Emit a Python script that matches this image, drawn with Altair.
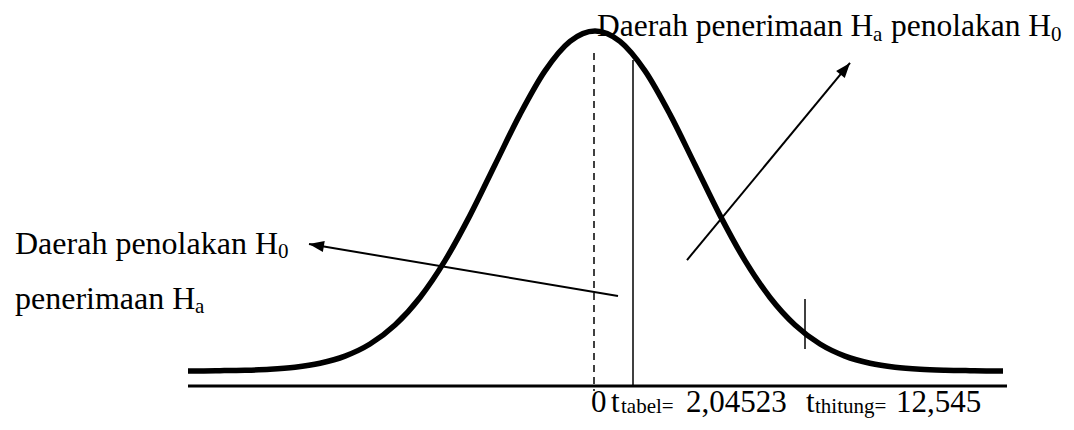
import altair as alt
import pandas as pd

# ---- curve (standard units z, density) ----
curve_z = [-4.07, -4.0, -3.75, -3.5, -3.25, -3.0, -2.75, -2.5, -2.25, -2.0, -1.75, -1.5,
           -1.25, -1.0, -0.75, -0.5, -0.25, 0.0, 0.25, 0.5, 0.75, 1.0, 1.25, 1.5, 1.75,
           2.0, 2.25, 2.5, 2.75, 3.0, 3.25, 3.5, 3.75, 4.0, 4.08]
curve_d = [0.0001, 0.0001, 0.0004, 0.0009, 0.0020, 0.0044, 0.0091, 0.0175, 0.0317, 0.0540,
           0.0863, 0.1295, 0.1826, 0.2420, 0.3011, 0.3521, 0.3867, 0.3989, 0.3867, 0.3521,
           0.3011, 0.2420, 0.1826, 0.1295, 0.0863, 0.0540, 0.0317, 0.0175, 0.0091, 0.0044,
           0.0020, 0.0009, 0.0004, 0.0001, 0.0001]

# ---- straight lines: baseline, mean (dashed), t-table, t-hitung tick ----
line_names = ["baseline", "mean", "ttabel", "thitung"]
line_x1 = [-4.07, -0.01, 0.38, 2.10]
line_x2 = [4.12, -0.01, 0.38, 2.10]
line_y1 = [-0.0176, 0.3731, 0.3649, 0.0845]
line_y2 = [-0.0176, -0.0235, -0.0176, 0.0258]

# ---- arrows (start -> tip) ----
arrow_x1 = [0.92, 0.23]
arrow_y1 = [0.1302, 0.0880]
arrow_x2 = [2.55, -2.86]
arrow_y2 = [0.3614, 0.1490]
arrow_angle = [39.6, 279.6]

# ---- text pieces ----
text_str = ["Daerah penerimaan H", "a", "penolakan H", "0",
            "Daerah penolakan H", "0",
            "penerimaan H", "a",
            "0", "t", "tabel=", "2,04523", "t", "thitung=", "12,545"]
text_x = [0.02, 2.78, 2.96, 4.56,
          -5.80, -3.17,
          -5.80, -4.00,
          -0.04, 0.16, 0.26, 0.91, 2.11, 2.20, 3.01]
text_y = [0.3931, 0.3872, 0.3931, 0.3872,
          0.1373, 0.1326,
          0.0727, 0.0681,
          -0.0481, -0.0481, -0.0493, -0.0481, -0.0481, -0.0493, -0.0481]
text_size = [31.5, 21, 31.5, 21,
             32, 21,
             32, 21,
             31, 31, 21, 31, 31, 21, 31]

curve = pd.DataFrame({"z": curve_z, "d": curve_d})
lines = pd.DataFrame({"name": line_names, "x1": line_x1, "x2": line_x2, "y1": line_y1, "y2": line_y2})
arrows = pd.DataFrame({"x1": arrow_x1, "y1": arrow_y1, "x2": arrow_x2, "y2": arrow_y2, "ang": arrow_angle})
texts = pd.DataFrame({"t": text_str, "x": text_x, "y": text_y, "fs": text_size})

xs = alt.Scale(domain=[-5.87, 4.71], nice=False, zero=False)
ys = alt.Scale(domain=[-0.05515, 0.42591], nice=False, zero=False)

curve_layer = alt.Chart(curve).mark_line(color="black", strokeWidth=5.5, interpolate="monotone").encode(
    x=alt.X("z:Q", scale=xs, axis=None),
    y=alt.Y("d:Q", scale=ys, axis=None),
)

def rule_layer(names, **style):
    return alt.Chart(lines[lines["name"].isin(names)]).mark_rule(color="black", **style).encode(
        x=alt.X("x1:Q", scale=xs, axis=None), x2="x2:Q",
        y=alt.Y("y1:Q", scale=ys, axis=None), y2="y2:Q",
    )

base_layer = rule_layer(["baseline"], strokeWidth=3)
mean_layer = rule_layer(["mean"], strokeWidth=1.5, strokeDash=[7, 5])
solid_layer = rule_layer(["ttabel", "thitung"], strokeWidth=1.5)

arrow_lines = alt.Chart(arrows).mark_rule(color="black", strokeWidth=2).encode(
    x=alt.X("x1:Q", scale=xs, axis=None), x2="x2:Q",
    y=alt.Y("y1:Q", scale=ys, axis=None), y2="y2:Q",
)
arrow_heads = alt.Chart(arrows).mark_point(
    shape="M0,0L0.75,2L-0.75,2Z", filled=True, color="black", size=225, opacity=1, strokeWidth=0
).encode(
    x=alt.X("x2:Q", scale=xs, axis=None),
    y=alt.Y("y2:Q", scale=ys, axis=None),
    angle=alt.Angle("ang:Q", scale=None),
)

text_layer = alt.Chart(texts).mark_text(
    align="left", baseline="alphabetic", font="Liberation Serif", color="black"
).encode(
    x=alt.X("x:Q", scale=xs, axis=None),
    y=alt.Y("y:Q", scale=ys, axis=None),
    text="t:N",
    size=alt.Size("fs:Q", scale=None),
)

chart = alt.layer(
    base_layer, mean_layer, solid_layer, curve_layer, arrow_lines, arrow_heads, text_layer
).properties(
    width=1058, height=410, padding=0, autosize=alt.AutoSizeParams(type="none"), background="white"
).configure_view(stroke=None)

chart.save("out.html", embed_options={"renderer": "svg", "actions": False})
